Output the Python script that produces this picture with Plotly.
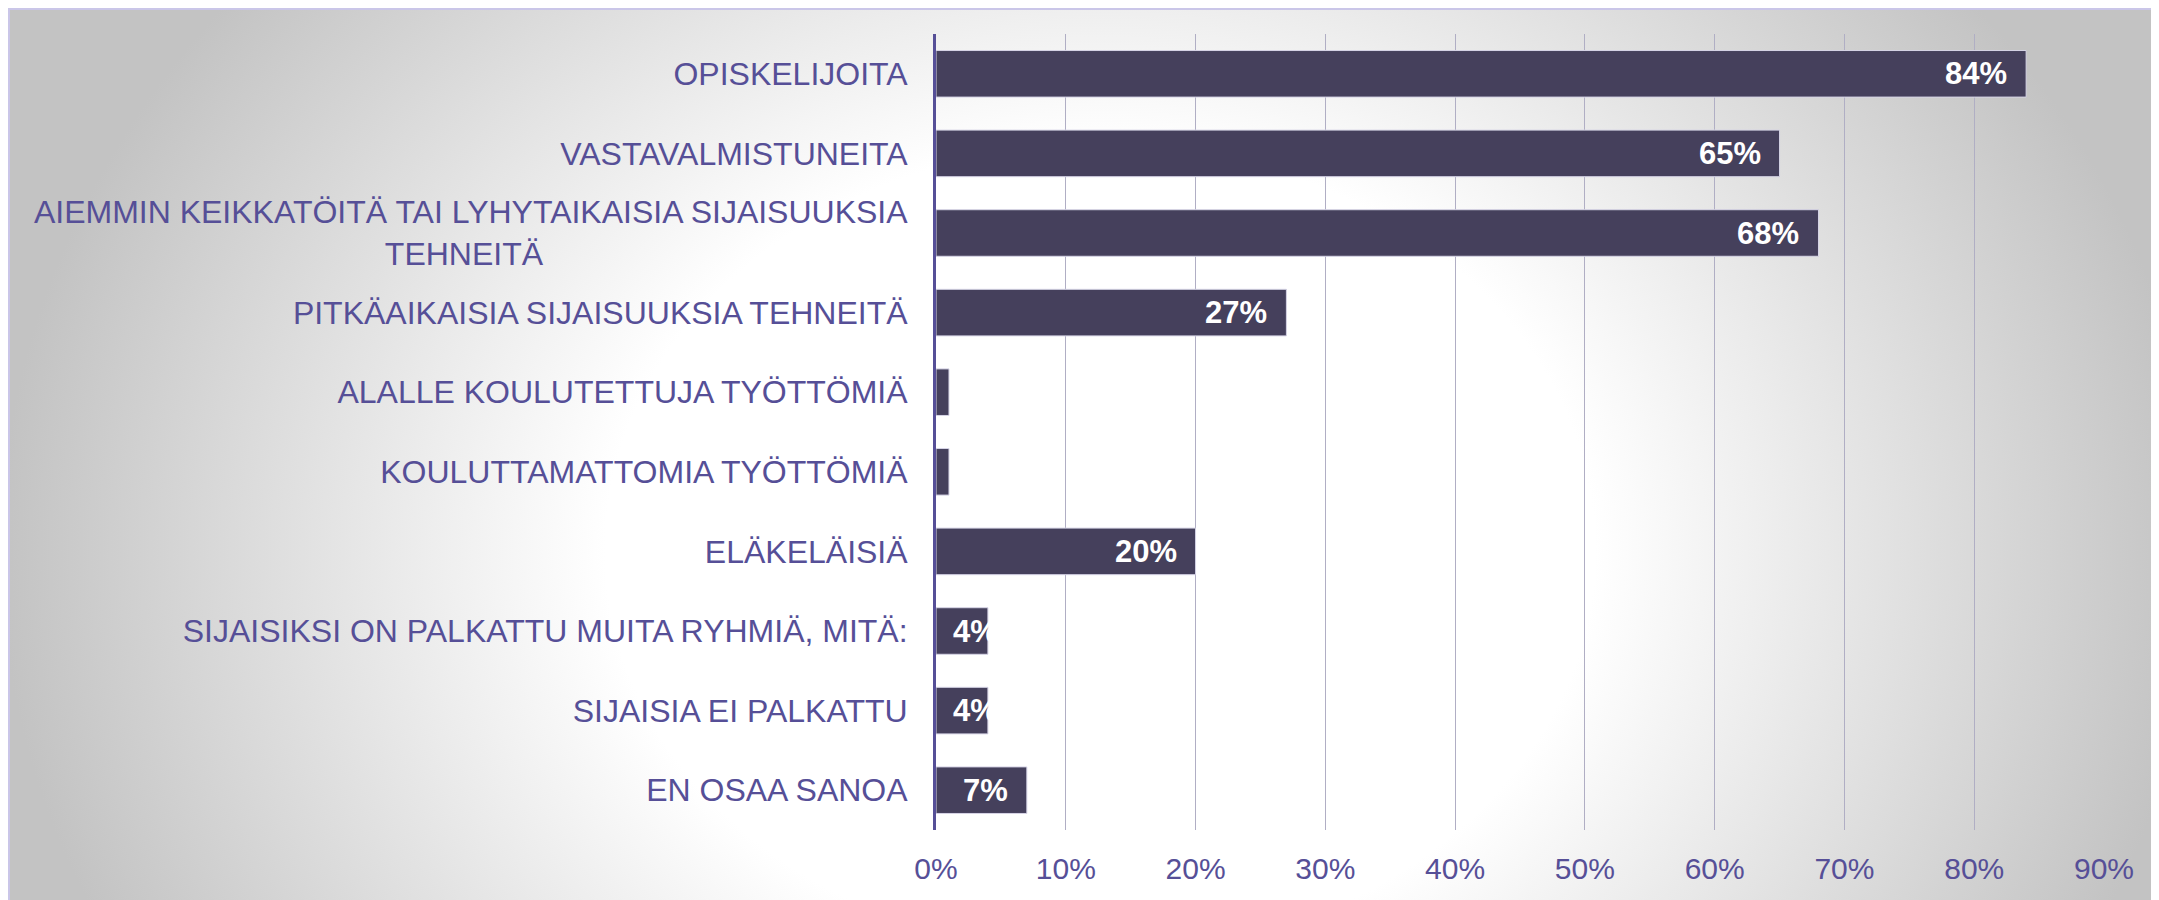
import base64
import plotly.graph_objects as go

categories = [
    "OPISKELIJOITA",
    "VASTAVALMISTUNEITA",
    "AIEMMIN KEIKKATÖITÄ TAI LYHYTAIKAISIA SIJAISUUKSIA<br>TEHNEITÄ" + "\u00a0" * 41,
    "PITKÄAIKAISIA SIJAISUUKSIA TEHNEITÄ",
    "ALALLE KOULUTETTUJA TYÖTTÖMIÄ",
    "KOULUTTAMATTOMIA TYÖTTÖMIÄ",
    "ELÄKELÄISIÄ",
    "SIJAISIKSI ON PALKATTU MUITA RYHMIÄ, MITÄ:",
    "SIJAISIA EI PALKATTU",
    "EN OSAA SANOA",
]
values = [0.84, 0.65, 0.68, 0.27, 0.01, 0.01, 0.20, 0.04, 0.04, 0.07]
labels = ["84%", "65%", "68%", "27%", "", "", "20%", "4%", "4%", "7%"]
tick_vals = [0, 0.1, 0.2, 0.3, 0.4, 0.5, 0.6, 0.7, 0.8, 0.9]
tick_text = ["0%", "10%", "20%", "30%", "40%", "50%", "60%", "70%", "80%", "90%"]

# page body has an 8px margin, so the figure is placed at (8, 8) in the window
W, H = 2151, 892
L, R, T, B = 928, 55, 26, 70
PW, PH = W - L - R, H - T - B

TEXT_COLOR = "#564f97"
BAR_COLOR = "#45405c"
FONT = "Liberation Sans, Arial, sans-serif"

CX, CY, RX, RY = 1092, 542, 1100, 900
svg = f'''<svg xmlns="http://www.w3.org/2000/svg" width="{W}" height="{H}" viewBox="0 0 {W} {H}">
<defs>
<radialGradient id="g" gradientUnits="userSpaceOnUse" cx="{CX}" cy="{CY}" r="{RX}"
 gradientTransform="translate({CX} {CY}) scale(1 {RY/RX:.4f}) translate({-CX} {-CY})">
<stop offset="0" stop-color="#ffffff"/>
<stop offset="0.45" stop-color="#ffffff"/>
<stop offset="1" stop-color="#c3c3c3"/>
</radialGradient>
</defs>
<rect x="0" y="0" width="{W}" height="{H}" fill="url(#g)"/>
<line x1="0" y1="1" x2="{W}" y2="1" stroke="#cac6e8" stroke-width="2"/>
<line x1="1" y1="0" x2="1" y2="{H}" stroke="#cac6e8" stroke-width="2"/>
</svg>'''
src = "data:image/svg+xml;base64," + base64.b64encode(svg.encode()).decode()

fig = go.Figure()
fig.add_trace(go.Bar(
    x=values,
    y=categories,
    orientation="h",
    marker=dict(color=BAR_COLOR, line=dict(color="#d6d4e6", width=1)),
    hoverinfo="skip",
))

# data labels
for cat, v, lab in zip(categories, values, labels):
    if not lab:
        continue
    if v < 0.06:
        fig.add_annotation(x=0, y=cat, text=lab, showarrow=False,
                           xanchor="left", xshift=15,
                           font=dict(family=FONT, size=31, color="white", weight="bold"))
    else:
        fig.add_annotation(x=v, y=cat, text=lab, showarrow=False,
                           xanchor="right", xshift=-17,
                           font=dict(family=FONT, size=31, color="white", weight="bold"))

fig.add_layout_image(dict(
    source=src, xref="paper", yref="paper",
    x=-L / PW, y=1 + T / PH, sizex=W / PW, sizey=H / PH,
    xanchor="left", yanchor="top", sizing="stretch", layer="below",
))

fig.update_layout(
    width=W, height=H,
    margin=dict(l=L, r=R, t=T, b=B),
    paper_bgcolor="white",
    plot_bgcolor="rgba(0,0,0,0)",
    bargap=0.415,
    showlegend=False,
    font=dict(family=FONT, color=TEXT_COLOR),
    xaxis=dict(
        range=[0, 0.9],
        tickvals=tick_vals,
        ticktext=tick_text,
        showgrid=True, gridcolor="#b0aec4", gridwidth=1,
        zeroline=False, showline=False,
        tickfont=dict(size=30, color=TEXT_COLOR),
        ticks="", ticklabelstandoff=18,
        fixedrange=True,
    ),
    yaxis=dict(
        categoryorder="array", categoryarray=categories,
        autorange="reversed",
        showline=True, linecolor="#564f97", linewidth=3,
        showgrid=False, zeroline=False,
        tickfont=dict(size=32, color=TEXT_COLOR),
        ticks="", ticklabelstandoff=19,
        fixedrange=True,
    ),
)

fig.write_html("out.html")
